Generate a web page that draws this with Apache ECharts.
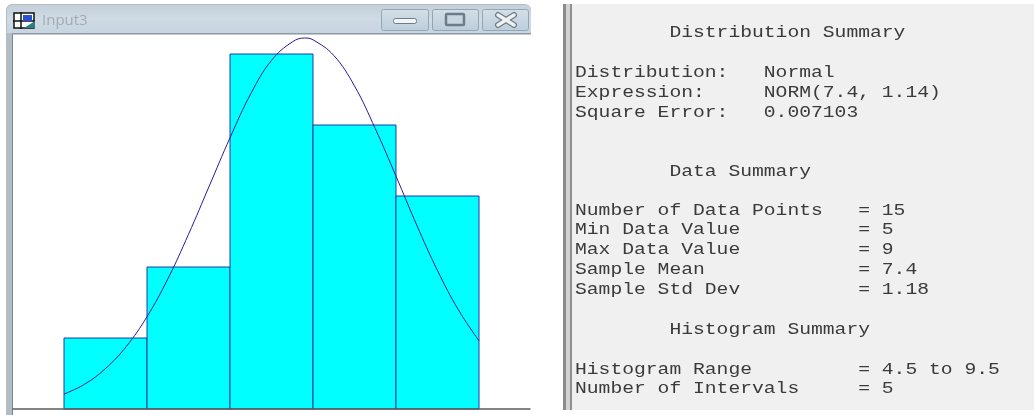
<!DOCTYPE html>
<html><head><meta charset="utf-8">
<style>html,body{margin:0;padding:0;background:#fff}#c{width:1034px;height:415px}</style>
<script src="https://cdn.jsdelivr.net/npm/echarts@6/dist/echarts.min.js"></script>
</head><body><div id="c"></div>
<script>
const binStarts = [4.5, 5.5, 6.5, 7.5, 8.5];
const binEnds   = [5.5, 6.5, 7.5, 8.5, 9.5];
const counts    = [1, 2, 5, 4, 3];
const curveX = [4.5,4.75,5,5.25,5.5,5.75,6,6.25,6.5,6.75,7,7.25,7.4,7.5,7.75,8,8.25,8.5,8.75,9,9.25,9.5];
const curveY = [0.21,0.35,0.57,0.88,1.30,1.83,2.46,3.14,3.82,4.44,4.91,5.17,5.225,5.20,4.98,4.55,3.95,3.28,2.59,1.95,1.40,0.96];
const windowTitle = 'Input3';
const reportLines = [
  ['        Distribution Summary', 33],
  ['Distribution:   Normal', 73],
  ['Expression:     NORM(7.4, 1.14)', 93],
  ['Square Error:   0.007103', 113],
  ['        Data Summary', 172],
  ['Number of Data Points   = 15', 211],
  ['Min Data Value          = 5', 230],
  ['Max Data Value          = 9', 250],
  ['Sample Mean             = 7.4', 270],
  ['Sample Std Dev          = 1.18', 290],
  ['        Histogram Summary', 330],
  ['Histogram Range         = 4.5 to 9.5', 370],
  ['Number of Intervals     = 5', 389]
];

const chart = echarts.init(document.getElementById('c'), null, {renderer:'canvas'});
const glyph = '#6d7c88';
const btn = (x, w) => ({type:'rect', shape:{x:x+.5,y:9.5,width:w,height:21,r:2},
  style:{fill:new echarts.graphic.LinearGradient(0,0,0,1,[{offset:0,color:'#d3dfe8'},{offset:1,color:'#bccddb'}]),stroke:'#94a5b3',lineWidth:1}, z:5});
const closeStroke = (x1,y1,x2,y2,color,w) => ({type:'line', shape:{x1,y1,x2,y2}, style:{stroke:color,lineWidth:w,lineCap:'round'}, z:6});
const graphics = [
  // report panel
  {type:'rect', shape:{x:563,y:4,width:471,height:406}, style:{fill:'#f0f0f0'}, z:1},
  {type:'rect', shape:{x:563,y:4,width:3,height:406}, style:{fill:'#8b8b8b'}, z:2},
  {type:'rect', shape:{x:566,y:4,width:4,height:406}, style:{fill:'#d2d2d2'}, z:2},
  {type:'rect', shape:{x:570,y:4,width:2,height:406}, style:{fill:'#8f8f8f'}, z:2},
  // window frame
  {type:'rect', shape:{x:6,y:4,width:525,height:411,r:[6,6,0,0]}, style:{fill:'#b4bcc4'}, z:1},
  {type:'rect', shape:{x:7,y:5,width:524,height:28,r:[5,5,0,0]},
    style:{fill:new echarts.graphic.LinearGradient(0,0,0,1,[{offset:0,color:'#c4cfd8'},{offset:.5,color:'#cfdbe5'},{offset:1,color:'#c6d5e1'}])}, z:2},
  {type:'rect', shape:{x:12,y:34,width:519,height:381}, style:{fill:'#ffffff'}, z:2},
  {type:'rect', shape:{x:12,y:33,width:1,height:382}, style:{fill:'#7d858c'}, z:3},
  {type:'rect', shape:{x:12,y:33,width:519,height:1.5}, style:{fill:'#8d98a2'}, z:3},
  // window icon
  {type:'rect', shape:{x:14,y:13,width:20,height:15}, style:{fill:'#fff',stroke:'#111',lineWidth:1.5}, z:5},
  {type:'line', shape:{x1:13,y1:21,x2:35,y2:21}, style:{stroke:'#111',lineWidth:1.5}, z:6},
  {type:'line', shape:{x1:21,y1:12,x2:21,y2:29}, style:{stroke:'#111',lineWidth:1.5}, z:6},
  {type:'rect', shape:{x:23,y:15,width:9,height:6}, style:{fill:'#2a4fd0'}, z:6},
  {type:'polygon', shape:{points:[[24,28],[35,21],[35,28]]}, style:{fill:'#2f7f78'}, z:6},
  {type:'text', x:42, y:21, style:{text:windowTitle, fill:'#a3abb2', font:'15px "Open Sans"', verticalAlign:'middle'}, z:5},
  // caption buttons
  btn(381,47), btn(432,46), btn(482,46),
  {type:'rect', shape:{x:393.5,y:18.5,width:23,height:5,r:2}, style:{fill:'#f2f5f7',stroke:glyph,lineWidth:1}, z:6},
  {type:'rect', shape:{x:446,y:14,width:18,height:11,r:1}, style:{fill:'#c9d6e0',stroke:glyph,lineWidth:2.5}, z:6},
  closeStroke(498,15,514,25,glyph,6), closeStroke(514,15,498,25,glyph,6),
  closeStroke(498,15,514,25,'#eef2f5',3.5), closeStroke(514,15,498,25,'#eef2f5',3.5)
];
reportLines.forEach(([t,y]) => graphics.push({
  type:'text', x:575, y:y, scaleX:1.229,
  style:{text:t, fill:'#3a3a3a', font:'16px "Liberation Mono"', verticalAlign:'middle'}, z:5
}));

chart.setOption({
  animation:false,
  backgroundColor:'#ffffff',
  graphic:{elements:graphics},
  grid:{left:13, right:504, top:35, bottom:6, z:10},
  xAxis:{type:'value', min:3.8855, max:10.1145, splitLine:{show:false},
    axisTick:{show:false}, axisLabel:{show:false},
    axisLine:{show:true, lineStyle:{color:'#5c5c5c', width:1.5}}, z:12},
  yAxis:{type:'value', min:0, max:374/71, show:false, splitLine:{show:false}},
  series:[
    {type:'custom', z:10, clip:false, encode:{x:[0,1], y:2},
     data:counts.map((c,i)=>[binStarts[i],binEnds[i],c]),
     renderItem(params, api){
       const a = api.coord([api.value(0), api.value(2)]);
       const b = api.coord([api.value(1), 0]);
       return {type:'rect', shape:{x:a[0],y:a[1],width:b[0]-a[0],height:b[1]-a[1]},
         style:{fill:'#00ffff', stroke:'#2438a8', lineWidth:1}};
     }},
    {type:'line', z:11, smooth:0.4, showSymbol:false, clip:false,
     data:curveX.map((x,i)=>[x,curveY[i]]),
     lineStyle:{color:'#2a1a96', width:1}}
  ]
});
</script></body></html>
